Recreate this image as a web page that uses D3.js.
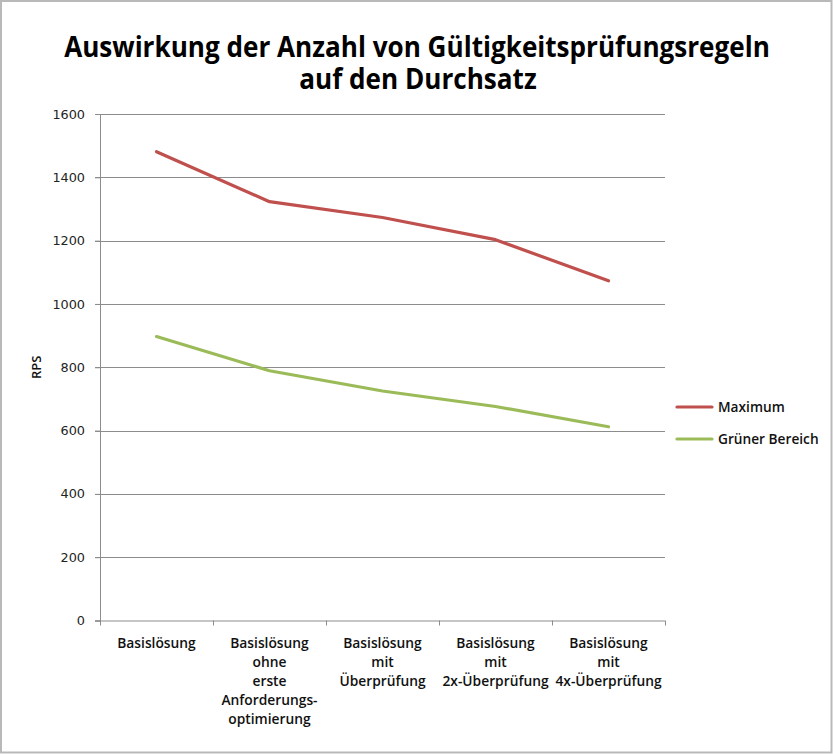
<!DOCTYPE html>
<html><head><meta charset="utf-8">
<script src="https://cdn.jsdelivr.net/npm/d3@7"></script>
<style>body{margin:0;background:#fff}svg{display:block}</style>
</head><body>
<script>
const categories = [
  ["Basislösung"],
  ["Basislösung","ohne","erste","Anforderungs-","optimierung"],
  ["Basislösung","mit","Überprüfung"],
  ["Basislösung","mit","2x-Überprüfung"],
  ["Basislösung","mit","4x-Überprüfung"]
];
const maximum = [1481, 1323, 1273, 1203, 1073];
const gruenerBereich = [897, 789, 725, 676, 612];
const seriesNames = ["Maximum", "Grüner Bereich"];
const seriesColors = ["#C0504D", "#9BBB59"];
const yTicks = [0, 200, 400, 600, 800, 1000, 1200, 1400, 1600];
const titleLines = ["Auswirkung der Anzahl von Gültigkeitsprüfungsregeln", "auf den Durchsatz"];

const W = 833, H = 754;
const font = "'Open Sans', 'Noto Sans', sans-serif";
const svg = d3.select("body").append("svg").attr("width", W).attr("height", H);
svg.append("rect").attr("x", 1).attr("y", 1).attr("width", W - 2.5).attr("height", H - 2.5)
  .attr("fill", "#fff").attr("stroke", "#b9b9b9").attr("stroke-width", 2);

const plot = {left: 100, right: 665, top: 114, bottom: 620.5};
const x = d3.scaleBand().domain(d3.range(categories.length)).range([plot.left, plot.right]);
const y = d3.scaleLinear().domain([0, 1600]).range([plot.bottom, plot.top]);

// Title: one text with two lines, condensed horizontally to mimic the narrow original face
const tOuter = svg.append("g").attr("transform", "translate(417,0)");
const t = tOuter.append("g");
const title = t.append("text").attr("text-anchor", "middle").attr("font-family", font)
  .attr("font-weight", 700).attr("font-size", 28).attr("fill", "#000");
const ts1 = title.append("tspan").attr("x", 0).attr("y", 57).text(titleLines[0]);
title.append("tspan").attr("x", 1).attr("y", 89).text(titleLines[1]);
const w1 = ts1.node().getComputedTextLength();
t.attr("transform", `scale(${706 / w1},1)`);

// Gridlines
svg.append("g").selectAll("line").data(yTicks.filter(d => d > 0)).join("line")
  .attr("x1", plot.left - 5).attr("x2", plot.right)
  .attr("y1", d => Math.round(y(d)) + 0.5).attr("y2", d => Math.round(y(d)) + 0.5)
  .attr("stroke", "#8c8c8c").attr("stroke-width", 1);

// Y axis
const yAxis = d3.axisLeft(y).tickValues(yTicks).tickFormat(d3.format("d")).tickSize(5).tickPadding(10);
const ya = svg.append("g").attr("transform", `translate(${plot.left},0)`).call(yAxis);
ya.select(".domain").attr("stroke", "#8c8c8c");
ya.selectAll(".tick line").attr("stroke", "#8c8c8c");
ya.selectAll("text").attr("font-family", "'DejaVu Sans', Verdana, sans-serif").attr("font-size", 12.8).attr("fill", "#222");

// X axis
const xa = svg.append("g").attr("transform", `translate(0,${plot.bottom})`);
xa.append("line").attr("x1", plot.left - 5).attr("x2", plot.right).attr("y1", 0.5).attr("y2", 0.5).attr("stroke", "#8c8c8c");
const bounds = d3.range(categories.length + 1).map(i => i < categories.length ? x(i) : x(i - 1) + x.bandwidth());
xa.selectAll("line.tk").data(bounds).join("line").attr("class", "tk")
  .attr("x1", d => Math.round(d) + 0.5).attr("x2", d => Math.round(d) + 0.5).attr("y1", 0).attr("y2", 5)
  .attr("stroke", "#8c8c8c");
categories.forEach((lines, i) => {
  const tx = xa.append("text").attr("text-anchor", "middle").attr("font-family", font)
    .attr("font-size", 13.8).attr("font-weight", 600).attr("fill", "#111");
  lines.forEach((ln, j) => {
    tx.append("tspan").attr("x", x(i) + x.bandwidth() / 2).attr("y", 27 + j * 19).text(ln);
  });
});

// Y label
svg.append("text").attr("transform", `translate(41,${(plot.top + plot.bottom) / 2}) rotate(-90)`)
  .attr("text-anchor", "middle").attr("font-family", font).attr("font-size", 13).attr("font-weight", 600)
  .attr("fill", "#111").text("RPS");

// Lines
const line = d3.line().x((d, i) => x(i) + x.bandwidth() / 2).y(d => y(d));
[maximum, gruenerBereich].forEach((s, k) => {
  svg.append("path").datum(s).attr("d", line).attr("fill", "none")
    .attr("stroke", seriesColors[k]).attr("stroke-width", 3.2).attr("stroke-linecap", "round").attr("stroke-linejoin", "round");
});

// Legend
seriesNames.forEach((n, k) => {
  const yy = 407 + k * 32;
  svg.append("line").attr("x1", 677).attr("x2", 712).attr("y1", yy).attr("y2", yy)
    .attr("stroke", seriesColors[k]).attr("stroke-width", 3.2).attr("stroke-linecap", "round");
  svg.append("text").attr("x", 718).attr("y", yy + 5).attr("font-family", font).attr("font-size", 13.7)
    .attr("font-weight", 600).attr("fill", "#111").text(n);
});
</script>
</body></html>
